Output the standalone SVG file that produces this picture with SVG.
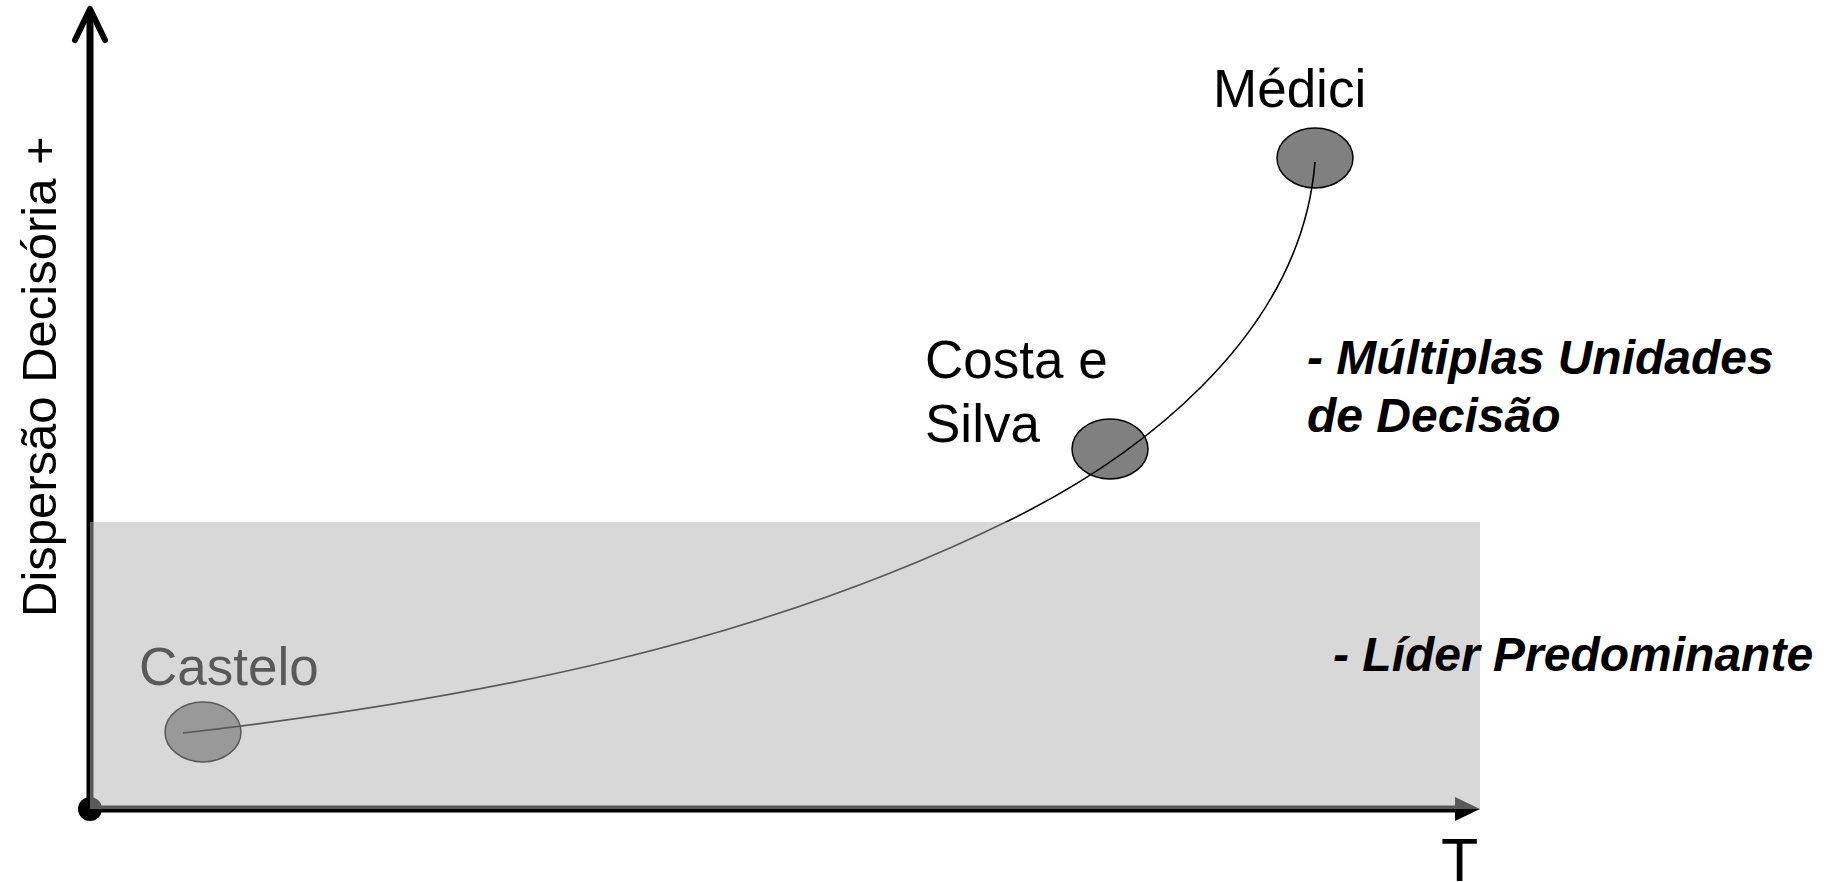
<svg xmlns="http://www.w3.org/2000/svg" width="1838" height="882" viewBox="0 0 1838 882">
  <style>
    .lbl { font-family: "Liberation Sans", Arial, sans-serif; font-size: 53px; fill: #000; }
    .axt { font-family: "Liberation Sans", Arial, sans-serif; fill: #000; }
    .bi { font-family: "Liberation Sans", Arial, sans-serif; font-size: 48px; font-weight: bold; font-style: italic; fill: #000; }
    .node { fill: #808080; stroke: #000; stroke-width: 1.5; }
    .axis { stroke: #000; stroke-width: 7; fill: none; }
  </style>
  <rect x="0" y="0" width="1838" height="882" fill="#ffffff"/>
  <g id="axes">
    <line class="axis" x1="90" y1="12" x2="90" y2="809"/>
    <polyline points="75,40 90,9 105,40" fill="none" stroke="#000" stroke-width="6" stroke-linecap="round" stroke-linejoin="round"/>
    <line class="axis" x1="90" y1="809" x2="1460" y2="809"/>
    <polygon points="1455,797 1480,809 1455,821" fill="#000"/>
    <circle cx="90" cy="809" r="12" fill="#000"/>
  </g>
  <g id="node-castelo">
    <ellipse class="node" cx="203" cy="732" rx="38" ry="30"/>
    <text class="lbl" x="139" y="685">Castelo</text>
  </g>
  <g id="node-costa">
    <ellipse class="node" cx="1110" cy="449" rx="38" ry="30"/>
  </g>
  <g id="node-medici">
    <ellipse class="node" cx="1315" cy="158" rx="38" ry="30"/>
  </g>
  <g id="connectors">
    <path d="M183,733 C483,698.5 758,643.3 1008,521 C1128,462.3 1300.6,342 1315,162" fill="none" stroke="#000" stroke-width="1.6"/>
  </g>
  <g id="zone-lider">
    <rect x="90" y="522" width="1390" height="287" fill="#b2b2b2" fill-opacity="0.5"/>
  </g>
  <g id="labels">
    <text class="lbl" x="1213" y="107">Médici</text>
    <text class="lbl" x="925" y="378">Costa e</text>
    <text class="lbl" x="925" y="442">Silva</text>
    <text class="bi" x="1307" y="374">- Múltiplas Unidades</text>
    <text class="bi" x="1307" y="432">de Decisão</text>
    <text class="bi" x="1333" y="671">- Líder Predominante</text>
    <text class="axt" x="1441" y="881" style="font-size:61px">T</text>
    <text class="axt" transform="translate(56,617) rotate(-90)" style="font-size:49px">Dispersão Decisória +</text>
  </g>
</svg>
